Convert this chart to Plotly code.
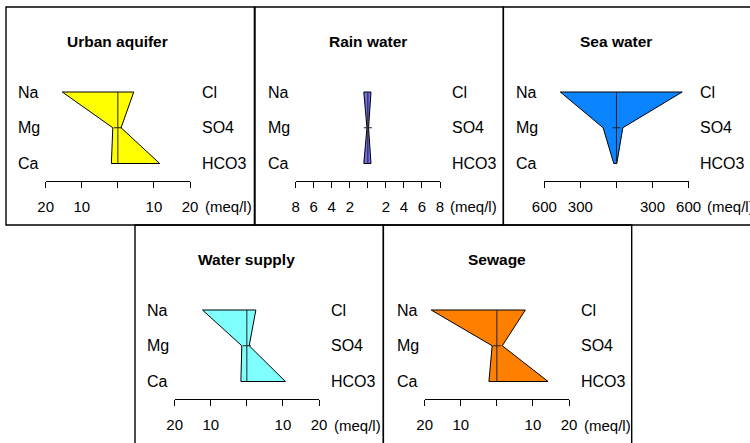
import plotly.graph_objects as go

W, H = 750, 443

# ---------------- data (meq/l) ----------------
panels = ["Urban aquifer", "Rain water", "Sea water", "Water supply", "Sewage"]
cations = ["Na", "Mg", "Ca"]
anions = ["Cl", "SO4", "HCO3"]
Na = [15.4, 0.45, 467, 12.3, 18.2]
Mg = [1.4, 0.1, 111, 1.4, 1.3]
Ca = [1.8, 0.45, 22, 1.65, 2.2]
Cl = [4.4, 0.35, 547, 2.5, 7.9]
SO4 = [0.9, 0.08, 53, 0.65, 1.5]
HCO3 = [11.6, 0.35, 3, 10.7, 14.2]
axis_max = [20, 8, 600, 20, 20]
tick_vals = [
    [-20, -10, 0, 10, 20],
    [-8, -6, -4, -2, 0, 2, 4, 6, 8],
    [-600, -300, 0, 300, 600],
    [-20, -10, 0, 10, 20],
    [-20, -10, 0, 10, 20],
]
tick_text = [
    ["20", "10", "", "10", "20"],
    ["8", "6", "4", "2", "", "2", "4", "6", "8"],
    ["600", "300", "", "300", "600"],
    ["20", "10", "", "10", "20"],
    ["20", "10", "", "10", "20"],
]
unit_label = "(meq/l)"
fills = ["#FFFF00", "#6E6EE8", "#0A84FF", "#80FFFF", "#FF8000"]

# ---------------- layout geometry (pixels) ----------------
box_left = [6, 255, 503.3, 135, 383.3]
box_top = [7, 7, 7, 225, 225]
box_w, box_h = 248.4, 218
axis_left = [45.7, 295.7, 544.3, 174.7, 424.7]
axis_w = 144.3
row_gap = 35.75
na_off = 85.0      # Na row below box top
axis_off = 173.5   # axis line below box top
title_off = 34.5

FONT = "Liberation Sans, Arial, Helvetica, sans-serif"


def px(x):
    return x / W


def py(y):
    return 1 - y / H


fig = go.Figure()
shapes = []
annotations = []

y_lo = 1 - (axis_off - (na_off + 2 * row_gap)) / row_gap
y_hi = 3 + 8 / row_gap

for i, name in enumerate(panels):
    k = "" if i == 0 else str(i + 1)
    xa, ya = "x" + k, "y" + k
    m = axis_max[i]
    half_tick = 4.0 * (2 * m) / axis_w

    # polygon
    xs = [-Na[i], -Mg[i], -Ca[i], HCO3[i], SO4[i], Cl[i], -Na[i]]
    ys = [3, 2, 1, 1, 2, 3, 3]
    fig.add_trace(go.Scatter(x=xs, y=ys, xaxis=xa, yaxis=ya, mode="lines",
                             fill="toself", fillcolor=fills[i],
                             line=dict(color="black", width=1),
                             hoverinfo="skip", showlegend=False))
    # centre line
    fig.add_trace(go.Scatter(x=[0, 0], y=[1, 3], xaxis=xa, yaxis=ya, mode="lines",
                             line=dict(color="#222222", width=1),
                             hoverinfo="skip", showlegend=False))
    # Mg tick
    fig.add_trace(go.Scatter(x=[-half_tick, half_tick], y=[2, 2], xaxis=xa, yaxis=ya,
                             mode="lines", line=dict(color="#222222", width=1),
                             hoverinfo="skip", showlegend=False))

    top = box_top[i]
    dom_x = [px(axis_left[i]), px(axis_left[i] + axis_w)]
    dom_y = [py(top + axis_off), py(top + na_off - 8)]
    fig.update_layout(**{
        "xaxis" + k: dict(domain=dom_x, anchor=ya, range=[-m, m], tickvals=tick_vals[i],
                          ticktext=tick_text[i], ticks="outside", ticklen=6, tickwidth=1,
                          tickcolor="black", showline=True, linecolor="black", linewidth=1,
                          showgrid=False, zeroline=False, fixedrange=True,
                          automargin=False, ticklabelstandoff=6,
                          tickfont=dict(family=FONT, size=15, color="black")),
        "yaxis" + k: dict(domain=dom_y, anchor=xa, range=[y_lo, y_hi], visible=False,
                          automargin=False,
                          showgrid=False, zeroline=False, fixedrange=True),
    })

    # panel border
    bottom = top + box_h + (1 if i >= 3 else 0)
    shapes.append(dict(type="rect", xref="paper", yref="paper",
                       x0=px(box_left[i]), x1=px(box_left[i] + box_w),
                       y0=py(bottom), y1=py(top),
                       line=dict(color="black", width=1.4), layer="above"))

    # title
    annotations.append(dict(text="<b>%s</b>" % name, xref="paper", yref="paper",
                            x=px(axis_left[i] + axis_w / 2), y=py(top + title_off),
                            xanchor="center", yanchor="middle", showarrow=False,
                            font=dict(family=FONT, size=15.5, color="black")))
    # ion labels
    for j, (c, a) in enumerate(zip(cations, anions)):
        annotations.append(dict(text=c, xref="paper", yref=ya,
                                x=px(axis_left[i] - 30), y=3 - j,
                                xanchor="left", yanchor="middle", showarrow=False,
                                font=dict(family=FONT, size=16, color="black")))
        annotations.append(dict(text=a, xref="paper", yref=ya,
                                x=px(axis_left[i] + axis_w + 9.5), y=3 - j,
                                xanchor="left", yanchor="middle", showarrow=False,
                                font=dict(family=FONT, size=16, color="black")))
    # unit label after last tick label
    last = tick_text[i][-1]
    shift = len(last) * 0.556 * 15 / 2 + 0.278 * 15
    annotations.append(dict(text=unit_label, xref=xa, yref="paper",
                            x=m, y=py(top + 200), xshift=shift,
                            xanchor="left", yanchor="middle", showarrow=False,
                            font=dict(family=FONT, size=15, color="black")))

fig.update_layout(width=W, height=H, margin=dict(l=0, r=0, t=0, b=0, autoexpand=False),
                  paper_bgcolor="white", plot_bgcolor="rgba(0,0,0,0)",
                  shapes=shapes, annotations=annotations, showlegend=False)

fig.write_html("out.html", config={"displayModeBar": False},
               post_script="document.body.style.margin='0';")
